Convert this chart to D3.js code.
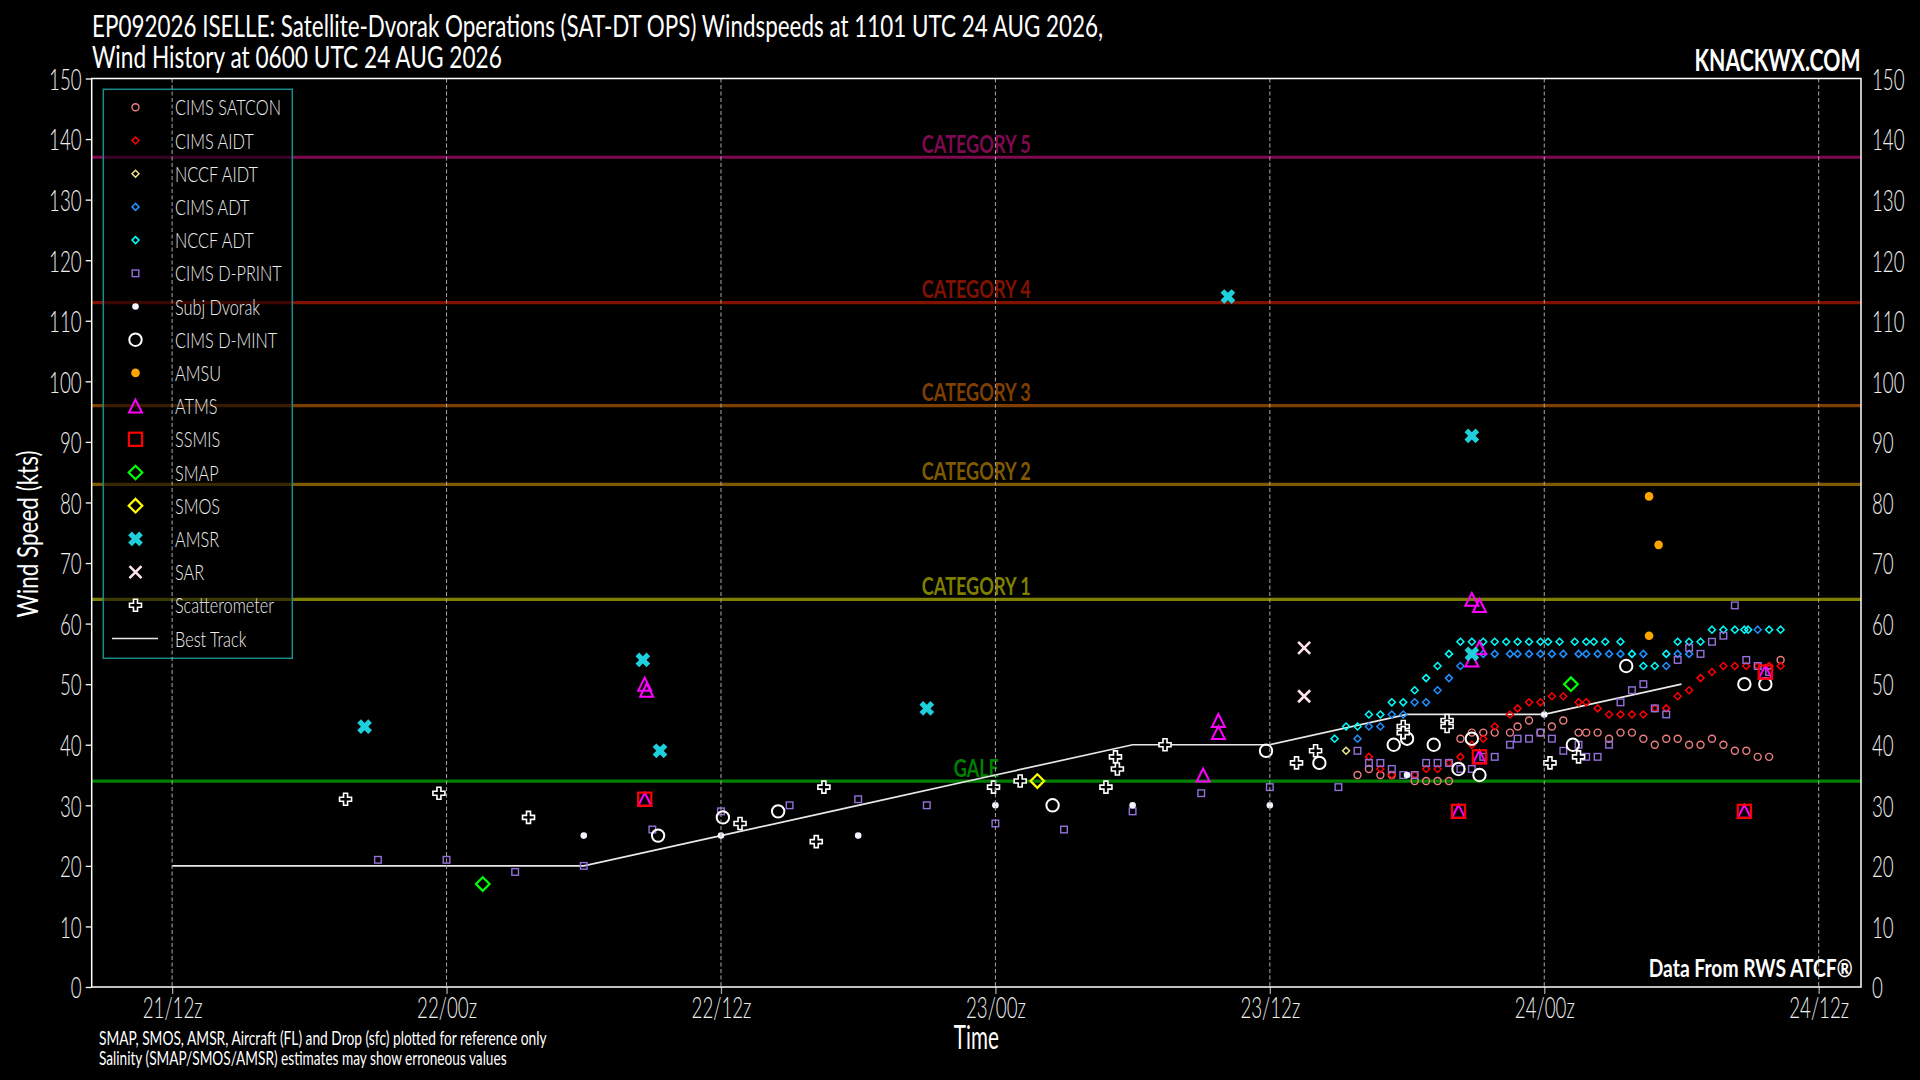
<!DOCTYPE html>
<html>
<head>
<meta charset="utf-8">
<title>EP092026 ISELLE SAT-DT OPS</title>
<script src="https://cdn.jsdelivr.net/npm/d3@7"></script>
<style>
  html, body { margin: 0; padding: 0; background: #000; }
  svg { display: block; }
  text { font-family: Lato, 'Liberation Sans Narrow', sans-serif; }
</style>
</head>
<body>
<div id="chart"></div>
<script>
// all times are 'DD HH:MM' UTC, August 2026
let bestTrack = [['21 12:00', 20], ['21 18:00', 20], ['22 00:00', 20], ['22 06:00', 20], ['22 12:00', 25], ['22 18:00', 30],
  ['23 00:00', 35], ['23 06:00', 40], ['23 12:00', 40], ['23 18:00', 45], ['24 00:00', 45], ['24 06:00', 50]];

let cimsSatcon = [['23 15:50', 35], ['23 16:20', 36], ['23 16:50', 35], ['23 17:20', 35], ['23 18:20', 34], ['23 18:50', 34],
  ['23 19:20', 34], ['23 19:50', 34], ['23 20:20', 41], ['23 20:50', 42], ['23 21:20', 42], ['23 21:50', 42], ['23 22:30', 42],
  ['23 22:50', 43], ['23 23:20', 44], ['23 23:50', 42], ['24 00:20', 43], ['24 00:50', 44], ['24 01:30', 42], ['24 01:50', 42],
  ['24 02:20', 42], ['24 02:50', 41], ['24 03:20', 42], ['24 03:50', 42], ['24 04:20', 41], ['24 04:50', 40], ['24 05:20', 41],
  ['24 05:50', 41], ['24 06:20', 40], ['24 06:50', 40], ['24 07:20', 41], ['24 07:50', 40], ['24 08:20', 39], ['24 08:50', 39],
  ['24 09:20', 38], ['24 09:50', 38], ['24 10:20', 54]];

let cimsAidt = [['23 16:20', 38], ['23 16:50', 36], ['23 17:20', 35], ['23 18:20', 35], ['23 18:50', 36], ['23 19:20', 36],
  ['23 19:50', 37], ['23 20:20', 38], ['23 20:50', 40], ['23 21:20', 41], ['23 21:50', 43], ['23 22:30', 45], ['23 22:50', 46],
  ['23 23:20', 47], ['23 23:50', 47], ['24 00:20', 48], ['24 00:50', 48], ['24 01:30', 47], ['24 01:50', 47], ['24 02:20', 46],
  ['24 02:50', 45], ['24 03:20', 45], ['24 03:50', 45], ['24 04:20', 45], ['24 04:50', 46], ['24 05:20', 46], ['24 05:50', 48],
  ['24 06:20', 49], ['24 06:50', 51], ['24 07:20', 52], ['24 07:50', 53], ['24 08:20', 53], ['24 08:50', 53], ['24 09:20', 53],
  ['24 09:50', 53], ['24 10:20', 53]];

let nccfAidt = [['23 15:20', 39]];

let cimsAdt = [['23 15:50', 41], ['23 16:20', 43], ['23 16:50', 43], ['23 17:20', 45], ['23 17:50', 45], ['23 18:20', 47],
  ['23 18:50', 47], ['23 19:20', 49], ['23 19:50', 51], ['23 20:20', 53], ['23 20:50', 55], ['23 21:20', 55], ['23 21:50', 55],
  ['23 22:30', 55], ['23 22:50', 55], ['23 23:20', 55], ['23 23:50', 55], ['24 00:20', 55], ['24 00:50', 55], ['24 01:30', 55],
  ['24 01:50', 55], ['24 02:20', 55], ['24 02:50', 55], ['24 03:20', 55], ['24 04:20', 55], ['24 05:20', 53], ['24 05:50', 55],
  ['24 06:20', 55], ['24 09:20', 59]];

let nccfAdt = [['23 14:50', 41], ['23 15:20', 43], ['23 15:50', 43], ['23 16:20', 45], ['23 16:50', 45], ['23 17:20', 47],
  ['23 17:50', 47], ['23 18:20', 49], ['23 18:50', 51], ['23 19:20', 53], ['23 19:50', 55], ['23 20:20', 57], ['23 20:50', 57],
  ['23 21:20', 57], ['23 21:50', 57], ['23 22:20', 57], ['23 22:50', 57], ['23 23:20', 57], ['23 23:50', 57], ['24 00:10', 57],
  ['24 00:40', 57], ['24 01:20', 57], ['24 01:50', 57], ['24 02:10', 57], ['24 02:40', 57], ['24 03:20', 57], ['24 03:50', 55],
  ['24 04:20', 53], ['24 04:50', 53], ['24 05:20', 55], ['24 05:50', 57], ['24 06:20', 57], ['24 06:50', 57], ['24 07:20', 59],
  ['24 07:50', 59], ['24 08:20', 59], ['24 08:45', 59], ['24 08:55', 59], ['24 09:50', 59], ['24 10:20', 59]];

let cimsDprint = [['21 21:00', 21], ['22 00:00', 21], ['22 03:00', 19], ['22 06:00', 20], ['22 09:00', 26], ['22 12:00', 29],
  ['22 15:00', 30], ['22 18:00', 31], ['22 21:00', 30], ['23 00:00', 27], ['23 03:00', 26], ['23 06:00', 29], ['23 09:00', 32],
  ['23 12:00', 33], ['23 15:00', 33], ['23 15:50', 39], ['23 16:20', 37], ['23 16:50', 37], ['23 17:20', 36], ['23 17:50', 35],
  ['23 18:20', 35], ['23 18:50', 37], ['23 19:20', 37], ['23 19:50', 37], ['23 20:20', 36], ['23 20:50', 36], ['23 21:20', 38],
  ['23 21:50', 38], ['23 22:30', 40], ['23 22:50', 41], ['23 23:20', 41], ['23 23:50', 42], ['24 00:20', 41], ['24 00:50', 39],
  ['24 01:30', 40], ['24 01:50', 38], ['24 02:20', 38], ['24 02:50', 40], ['24 03:20', 47], ['24 03:50', 49], ['24 04:20', 50],
  ['24 04:50', 46], ['24 05:20', 45], ['24 05:50', 54], ['24 06:20', 56], ['24 06:50', 55], ['24 07:20', 57], ['24 07:50', 58],
  ['24 08:20', 63], ['24 08:50', 54], ['24 09:20', 53], ['24 09:50', 52]];

let subjDvorak = [['22 06:00', 25], ['22 12:00', 25], ['22 18:00', 25], ['23 00:00', 30], ['23 06:00', 30], ['23 12:00', 30],
  ['23 18:00', 35], ['24 00:00', 45]];

let cimsDmint = [['22 09:15', 25], ['22 12:05', 28], ['22 14:30', 29], ['23 02:30', 30], ['23 11:50', 39], ['23 14:10', 37],
  ['23 17:25', 40], ['23 18:00', 41], ['23 19:10', 40], ['23 20:15', 36], ['23 20:50', 41], ['23 21:10', 35], ['24 01:15', 40],
  ['24 03:35', 53], ['24 08:45', 50], ['24 09:40', 50]];

let amsu = [['24 04:35', 81], ['24 05:00', 73], ['24 04:35', 58]];

let atms = [['22 08:40', 50], ['22 08:45', 49], ['22 08:40', 31], ['23 09:05', 35], ['23 09:45', 44], ['23 09:45', 42],
  ['23 20:15', 29], ['23 20:50', 64], ['23 21:10', 63], ['23 20:50', 54], ['23 21:10', 56], ['23 21:10', 38], ['24 08:45', 29],
  ['24 09:40', 52]];

let ssmis = [['22 08:40', 31], ['23 20:15', 29], ['23 21:10', 38], ['24 08:45', 29], ['24 09:40', 52]];

let smap = [['22 01:35', 17], ['24 01:10', 50]];

let smos = [['23 01:50', 34]];

let amsr = [['21 20:25', 43], ['22 08:35', 54], ['22 09:20', 39], ['22 21:00', 46], ['23 10:10', 114], ['23 20:50', 91],
  ['23 20:50', 55]];

let sar = [['23 13:30', 56], ['23 13:30', 48]];

let scatterometer = [['21 19:35', 31], ['21 23:40', 32], ['22 03:35', 28], ['22 12:50', 27], ['22 16:10', 24], ['22 16:30', 33],
  ['22 23:55', 33], ['23 01:05', 34], ['23 04:50', 33], ['23 05:15', 38], ['23 05:20', 36], ['23 07:25', 40], ['23 13:10', 37],
  ['23 14:00', 39], ['23 17:50', 43], ['23 17:50', 42], ['23 19:45', 44], ['23 19:45', 43], ['24 00:15', 37], ['24 01:30', 38]];

let categoryNames = ['GALE', 'CATEGORY 1', 'CATEGORY 2', 'CATEGORY 3', 'CATEGORY 4', 'CATEGORY 5'];
let categoryWinds = [34, 64, 83, 96, 113, 137];
let yTicks = d3.range(0, 151, 10);

let titleLines = ['EP092026 ISELLE: Satellite-Dvorak Operations (SAT-DT OPS) Windspeeds at 1101 UTC 24 AUG 2026,',
  'Wind History at 0600 UTC 24 AUG 2026'];
let footNotes = ['SMAP, SMOS, AMSR, Aircraft (FL) and Drop (sfc) plotted for reference only',
  'Salinity (SMAP/SMOS/AMSR) estimates may show erroneous values'];

// ---- styles ----
let categoryColors = ['#008000', '#7f7f00', '#7f5a00', '#7f3f00', '#821200', '#7f0a52'];

let series = [
  {name: 'CIMS SATCON', data: cimsSatcon, shape: 'circle', color: '#f08080', size: 3.5, sw: 1.4},
  {name: 'CIMS AIDT', data: cimsAidt, shape: 'diamond', color: '#ff0000', size: 3.5, sw: 1.5},
  {name: 'NCCF AIDT', data: nccfAidt, shape: 'diamond', color: '#f0e68c', size: 3.5, sw: 1.5},
  {name: 'CIMS ADT', data: cimsAdt, shape: 'diamond', color: '#1e90ff', size: 3.5, sw: 1.5},
  {name: 'NCCF ADT', data: nccfAdt, shape: 'diamond', color: '#00ffff', size: 3.5, sw: 1.5},
  {name: 'CIMS D-PRINT', data: cimsDprint, shape: 'square', color: '#9370db', size: 3.3, sw: 1.4},
  {name: 'Subj Dvorak', data: subjDvorak, shape: 'dot', color: '#f2f5ff', size: 3.3},
  {name: 'CIMS D-MINT', data: cimsDmint, shape: 'circle', color: '#ffffff', size: 6.2, sw: 2},
  {name: 'AMSU', data: amsu, shape: 'dot', color: '#ffa500', size: 4.3},
  {name: 'ATMS', data: atms, shape: 'triangle', color: '#ff00ff', size: 13, sw: 2},
  {name: 'SSMIS', data: ssmis, shape: 'square', color: '#ff0000', size: 6.6, sw: 2.2},
  {name: 'SMAP', data: smap, shape: 'diamond', color: '#00ff00', size: 6.8, sw: 2.2},
  {name: 'SMOS', data: smos, shape: 'diamond', color: '#ffff00', size: 6.8, sw: 2.2},
  {name: 'AMSR', data: amsr, shape: 'xfill', color: '#1fd0dc', size: 135},
  {name: 'SAR', data: sar, shape: 'x', color: '#fde4ec', size: 6, sw: 2.6},
  {name: 'Scatterometer', data: scatterometer, shape: 'plus', color: '#ffffff', size: 80, sw: 1.6}
];

let width = 1920;
let height = 1080;
let plot = {left: 91.7, right: 1861, top: 78.5, bottom: 987};

let parseTime = function(s) {
  return d3.utcParse('%Y-%m-%d %H:%M')('2026-08-' + s);
};

let svg = d3.select('#chart').append('svg')
  .attr('width', width)
  .attr('height', height);

svg.append('rect')
  .attr('width', width)
  .attr('height', height)
  .attr('fill', '#000');

// x domain: data extent with 5% margin on each side
let allTimes = [];
[bestTrack].concat(series.map(function(s) { return s.data; })).forEach(function(arr) {
  arr.forEach(function(d) { allTimes.push(parseTime(d[0])); });
});
let ext = d3.extent(allTimes);
let pad = (ext[1] - ext[0]) * 0.05;

let x = d3.scaleUtc()
  .domain([new Date(+ext[0] - pad), new Date(+ext[1] + pad)])
  .range([plot.left, plot.right]);

let y = d3.scaleLinear()
  .domain([0, 150])
  .range([plot.bottom, plot.top]);

let xTicks = d3.utcHour.every(12).range(x.domain()[0], x.domain()[1]);

function measure(str, size, weight) {
  let t = svg.append('text').attr('font-size', size).attr('font-weight', weight).text(str);
  let w = t.node().getComputedTextLength();
  t.remove();
  return w;
}

// squeeze text horizontally to imitate the condensed face of the original
function condense(sel, k, pre) {
  sel.each(function() {
    let t = d3.select(this);
    let xx = +t.attr('x') || 0;
    t.attr('x', xx / k).attr('transform', (pre || '') + ' scale(' + k + ',1)');
  });
}

function fitWidth(sel, w, pre) {
  let k = w / sel.node().getComputedTextLength();
  condense(sel, k, pre);
}

// category reference lines
let cats = svg.append('g').attr('class', 'categories');
categoryWinds.forEach(function(w, i) {
  cats.append('line')
    .attr('x1', plot.left)
    .attr('x2', plot.right)
    .attr('y1', y(w))
    .attr('y2', y(w))
    .attr('stroke', categoryColors[i])
    .attr('stroke-width', 3.2);
});
let catK = 109 / measure('CATEGORY 5', 24, 700);
let catLabels = cats.selectAll('text.cat')
  .data(categoryNames)
  .enter()
  .append('text')
  .attr('class', 'cat')
  .attr('x', (plot.left + plot.right) / 2)
  .attr('y', function(d, i) { return y(categoryWinds[i]) - 4.5; })
  .attr('text-anchor', 'middle')
  .attr('font-size', 24)
  .attr('font-weight', 700)
  .attr('fill', function(d, i) { return categoryColors[i]; })
  .text(function(d) { return d; });
condense(catLabels, catK);

// best track
let line = d3.line()
  .x(function(d) { return x(parseTime(d[0])); })
  .y(function(d) { return y(d[1]); });

svg.append('path')
  .datum(bestTrack)
  .attr('d', line)
  .attr('fill', 'none')
  .attr('stroke', '#e8e8e8')
  .attr('stroke-width', 1.7);

function addMarker(g, s) {
  let h = s.size;
  switch (s.shape) {
    case 'circle':
      g.append('circle').attr('r', h).attr('fill', 'none')
        .attr('stroke', s.color).attr('stroke-width', s.sw);
      break;
    case 'dot':
      g.append('circle').attr('r', h).attr('fill', s.color);
      break;
    case 'diamond':
      g.append('path').attr('d', 'M0,' + (-h) + 'L' + h + ',0L0,' + h + 'L' + (-h) + ',0Z')
        .attr('fill', 'none').attr('stroke', s.color).attr('stroke-width', s.sw);
      break;
    case 'square':
      g.append('rect').attr('x', -h).attr('y', -h).attr('width', 2 * h).attr('height', 2 * h)
        .attr('fill', 'none').attr('stroke', s.color).attr('stroke-width', s.sw);
      break;
    case 'triangle':
      g.append('path')
        .attr('d', 'M0,' + (-h / 2) + 'L' + (h / 2) + ',' + (h / 2) + 'L' + (-h / 2) + ',' + (h / 2) + 'Z')
        .attr('fill', 'none').attr('stroke', s.color).attr('stroke-width', s.sw)
        .attr('stroke-linejoin', 'miter');
      break;
    case 'xfill':
      g.append('path').attr('d', d3.symbol().type(d3.symbolCross).size(h)())
        .attr('transform', 'rotate(45)').attr('fill', s.color);
      break;
    case 'x':
      g.append('path').attr('d', 'M' + (-h) + ',' + (-h) + 'L' + h + ',' + h + 'M' + (-h) + ',' + h + 'L' + h + ',' + (-h))
        .attr('stroke', s.color).attr('stroke-width', s.sw);
      break;
    case 'plus':
      g.append('path').attr('d', d3.symbol().type(d3.symbolCross).size(h)())
        .attr('fill', '#000').attr('stroke', s.color).attr('stroke-width', s.sw);
      break;
  }
}

series.forEach(function(s) {
  svg.append('g')
    .attr('class', 'series')
    .selectAll('g')
    .data(s.data)
    .enter()
    .append('g')
    .attr('transform', function(d) {
      return 'translate(' + x(parseTime(d[0])) + ',' + y(d[1]) + ')';
    })
    .each(function() { addMarker(d3.select(this), s); });
});

// legend
let legend = svg.append('g').attr('class', 'legend');
legend.append('rect')
  .attr('x', 103.3)
  .attr('y', 89.3)
  .attr('width', 189)
  .attr('height', 569)
  .attr('fill', 'rgba(0,0,0,0.55)')
  .attr('stroke', '#1a8c8c')
  .attr('stroke-width', 1.5);

// vertical dashed grid
svg.append('g')
  .attr('class', 'grid')
  .selectAll('line')
  .data(xTicks)
  .enter()
  .append('line')
  .attr('x1', function(d) { return x(d); })
  .attr('x2', function(d) { return x(d); })
  .attr('y1', plot.top)
  .attr('y2', plot.bottom)
  .attr('stroke', '#a8a8a8')
  .attr('stroke-width', 1)
  .attr('stroke-dasharray', '4,2.5');

let legendItems = series.map(function(s) { return s.name; }).concat(['Best Track']);
let rows = legend.selectAll('g.item')
  .data(legendItems)
  .enter()
  .append('g')
  .attr('class', 'item')
  .attr('transform', function(d, i) { return 'translate(0,' + (107.3 + i * 33.2) + ')'; });

rows.each(function(d, i) {
  let g = d3.select(this);
  if (i < series.length) {
    addMarker(g.append('g').attr('transform', 'translate(135.5,0)'), series[i]);
  } else {
    g.append('line').attr('x1', 112).attr('x2', 158).attr('y1', 0).attr('y2', 0)
      .attr('stroke', '#e8e8e8').attr('stroke-width', 1.7);
  }
});

let legK = 106 / measure('CIMS SATCON', 22, 300);
let legTexts = rows.append('text')
  .attr('x', 175)
  .attr('y', 8)
  .attr('font-size', 22)
  .attr('font-weight', 300)
  .attr('fill', '#eeeeee')
  .text(function(d) { return d; });
condense(legTexts, legK);

// axes
let tickK = 32.6 / measure('150', 30, 300);

function styleAxis(g, tickColor) {
  g.select('.domain').remove();
  g.attr('font-family', null).attr('font-size', null);
  g.selectAll('line').attr('stroke', tickColor).attr('stroke-width', 1.3);
  g.selectAll('text')
    .attr('font-size', 30)
    .attr('font-weight', 300)
    .attr('fill', '#eeeeee');
  condense(g.selectAll('text'), tickK);
}

svg.append('g')
  .attr('transform', 'translate(' + plot.left + ',0)')
  .call(d3.axisLeft(y).tickValues(yTicks).tickSize(6).tickPadding(4))
  .call(styleAxis, '#ffffff')
  .selectAll('text').attr('dy', '0.36em');

svg.append('g')
  .attr('transform', 'translate(' + plot.right + ',0)')
  .call(d3.axisRight(y).tickValues(yTicks).tickSize(0).tickPadding(11))
  .call(styleAxis, 'none')
  .selectAll('text').attr('dy', '0.36em');

svg.append('g')
  .attr('transform', 'translate(0,' + plot.bottom + ')')
  .call(d3.axisBottom(x).tickValues(xTicks).tickFormat(d3.utcFormat('%d/%Hz')).tickSize(7).tickPadding(3))
  .call(styleAxis, '#a8a8a8');

// plot frame
svg.append('rect')
  .attr('x', plot.left)
  .attr('y', plot.top)
  .attr('width', plot.right - plot.left)
  .attr('height', plot.bottom - plot.top)
  .attr('fill', 'none')
  .attr('stroke', '#ffffff')
  .attr('stroke-width', 1.5);

// titles and notes
svg.append('text')
  .attr('x', 92).attr('y', 37)
  .attr('font-size', 30).attr('fill', '#ffffff')
  .text(titleLines[0])
  .call(fitWidth, 1012);

svg.append('text')
  .attr('x', 92).attr('y', 68.3)
  .attr('font-size', 30).attr('fill', '#ffffff')
  .text(titleLines[1])
  .call(fitWidth, 410);

svg.append('text')
  .attr('x', 1860.5).attr('y', 70.7)
  .attr('text-anchor', 'end')
  .attr('font-size', 30).attr('font-weight', 700).attr('fill', '#ffffff')
  .text('KNACKWX.COM')
  .call(fitWidth, 166);

svg.append('text')
  .attr('x', 1852.6).attr('y', 977)
  .attr('text-anchor', 'end')
  .attr('font-size', 24).attr('font-weight', 700).attr('fill', '#ffffff')
  .text('Data From RWS ATCF®')
  .call(fitWidth, 204);

svg.append('text')
  .attr('x', (plot.left + plot.right) / 2).attr('y', 1049)
  .attr('text-anchor', 'middle')
  .attr('font-size', 32).attr('fill', '#ffffff')
  .text('Time')
  .call(fitWidth, 45);

svg.append('text')
  .attr('text-anchor', 'middle')
  .attr('dominant-baseline', 'central')
  .attr('font-size', 28).attr('fill', '#ffffff')
  .text('Wind Speed (kts)')
  .call(fitWidth, 167, 'translate(27,534) rotate(-90)');

svg.append('text')
  .attr('x', 99).attr('y', 1045)
  .attr('font-size', 20).attr('fill', '#ffffff')
  .text(footNotes[0])
  .call(fitWidth, 448);

svg.append('text')
  .attr('x', 99).attr('y', 1065)
  .attr('font-size', 20).attr('fill', '#ffffff')
  .text(footNotes[1])
  .call(fitWidth, 408);
</script>
</body>
</html>
